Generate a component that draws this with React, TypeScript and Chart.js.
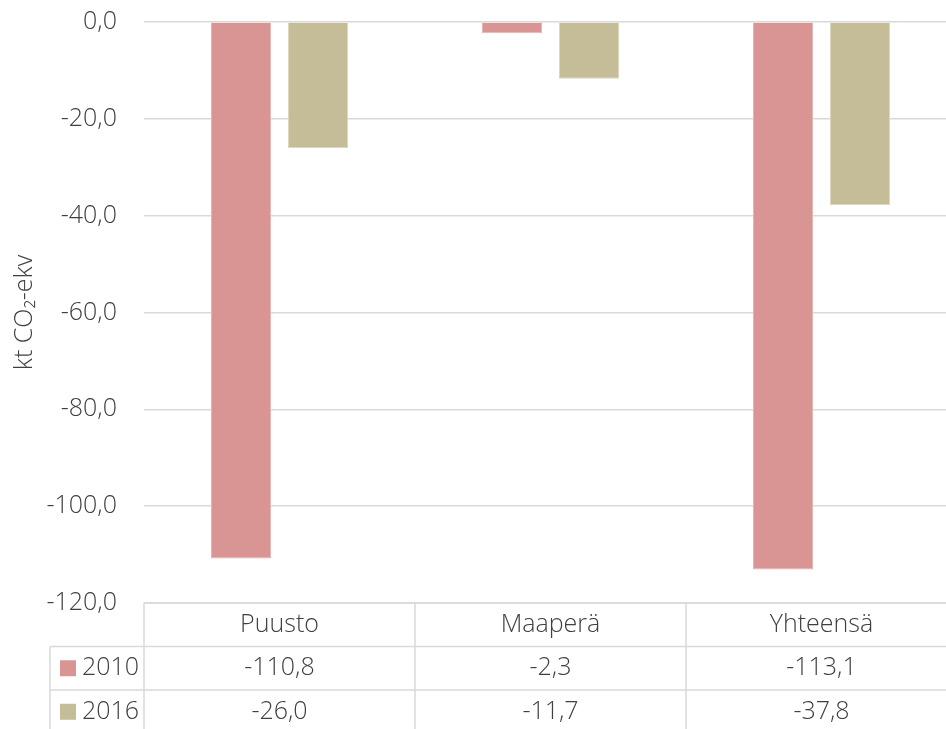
import React, { useEffect, useRef } from "react";
import { Chart, registerables } from "chart.js";

Chart.register(...registerables);

const CATEGORIES = ["Puusto", "Maaperä", "Yhteensä"];
const SERIES_NAMES = ["2010", "2016"];
const VALUES_2010 = [-110.8, -2.3, -113.1];
const VALUES_2016 = [-26.0, -11.7, -37.8];
const COLORS = ["#D99594", "#C4BD97"];
const BORDERS = ["#E6B4B3", "#DCD7BD"];
const Y_MIN = -120;
const Y_MAX = 0;
const Y_STEP = 20;
const Y_TITLE = "kt CO₂-ekv";

const FONT = "'Open Sans', Lato, sans-serif";
const TEXT = "#404040";
const LINE = "#D9D9D9";
const FS = 25;

const fmt = (v: number) => v.toFixed(1).replace(".", ",");

const tablePlugin = {
  id: "dataTable",
  afterDraw(chart: any) {
    const { ctx, chartArea } = chart;
    const n = CATEGORIES.length;
    const catW = (chartArea.right - chartArea.left) / n;
    const top = chartArea.bottom;
    const rowH = 43.5;
    const legendLeft = 50;
    const bottom = chart.height + 20;
    const rows = [VALUES_2010, VALUES_2016];

    ctx.save();
    ctx.strokeStyle = LINE;
    ctx.lineWidth = 1.5;
    ctx.beginPath();
    ctx.moveTo(chartArea.left, top);
    ctx.lineTo(chartArea.right, top);
    for (let r = 1; r <= rows.length; r++) {
      const y = top + rowH * r;
      ctx.moveTo(legendLeft, y);
      ctx.lineTo(chartArea.right, y);
    }
    ctx.moveTo(legendLeft, top + rowH);
    ctx.lineTo(legendLeft, bottom);
    for (let i = 0; i <= n; i++) {
      const x = chartArea.left + catW * i;
      ctx.moveTo(x, top);
      ctx.lineTo(x, bottom);
    }
    ctx.stroke();

    ctx.fillStyle = TEXT;
    ctx.font = `300 ${FS}px ${FONT}`;
    ctx.textAlign = "center";
    ctx.textBaseline = "middle";
    CATEGORIES.forEach((c, i) => {
      const x = chartArea.left + catW * (i + 0.5);
      ctx.fillText(c, x, top + rowH / 2);
    });
    rows.forEach((vals, r) => {
      const yc = top + rowH * (r + 1) + rowH / 2;
      vals.forEach((v, i) => {
        const x = chartArea.left + catW * (i + 0.5);
        ctx.fillStyle = TEXT;
        ctx.fillText(fmt(v), x, yc);
      });
      ctx.fillStyle = COLORS[r];
      ctx.fillRect(60, yc - 8, 16, 16);
      ctx.fillStyle = TEXT;
      ctx.textAlign = "left";
      ctx.fillText(SERIES_NAMES[r], 82, yc);
      ctx.textAlign = "center";
    });
    ctx.restore();
  },
};

export default function App() {
  const ref = useRef<HTMLCanvasElement>(null);
  useEffect(() => {
    if (!ref.current) return;
    const chart = new Chart(ref.current, {
      type: "bar",
      data: {
        labels: CATEGORIES,
        datasets: [
          {
            label: SERIES_NAMES[0],
            data: VALUES_2010,
            backgroundColor: COLORS[0],
            borderColor: BORDERS[0],
            borderWidth: 1,
            categoryPercentage: 0.568,
            barPercentage: 0.78,
          },
          {
            label: SERIES_NAMES[1],
            data: VALUES_2016,
            backgroundColor: COLORS[1],
            borderColor: BORDERS[1],
            borderWidth: 1,
            categoryPercentage: 0.568,
            barPercentage: 0.78,
          },
        ],
      },
      options: {
        animation: false,
        responsive: false,
        maintainAspectRatio: false,
        layout: { padding: { top: 22, left: 0, right: 3, bottom: 126 } },
        plugins: { legend: { display: false }, tooltip: { enabled: false } },
        scales: {
          x: { display: false },
          y: {
            min: Y_MIN,
            max: Y_MAX,
            afterFit: (s: any) => {
              s.width = 144;
              s.paddingTop = 0;
              s.paddingBottom = 0;
            },
            border: { display: false },
            grid: { color: LINE, lineWidth: 1.5, drawTicks: false },
            ticks: {
              stepSize: Y_STEP,
              padding: 27,
              color: TEXT,
              font: { family: FONT, size: FS, weight: "300" as any },
              callback: (v: any) => fmt(Number(v)),
            },
            title: {
              display: true,
              text: Y_TITLE,
              color: TEXT,
              font: { family: FONT, size: FS, weight: "300" as any },
              padding: { top: 10, bottom: 0 },
            },
          },
        },
      },
      plugins: [tablePlugin],
    });
    return () => chart.destroy();
  }, []);
  return (
    <div
      style={{
        position: "fixed",
        left: 0,
        top: 0,
        width: 946,
        height: 729,
        overflow: "hidden",
        background: "#fff",
      }}
    >
      <canvas ref={ref} width={960} height={729} style={{ display: "block" }} />
    </div>
  );
}
